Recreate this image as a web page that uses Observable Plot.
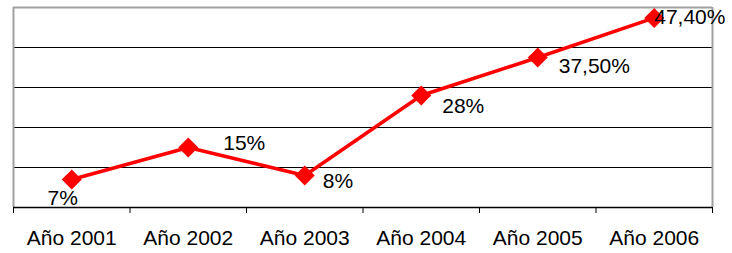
<!DOCTYPE html>
<html>
<head>
<meta charset="utf-8">
<script src="https://cdn.jsdelivr.net/npm/d3@7"></script>
<script src="https://cdn.jsdelivr.net/npm/@observablehq/plot@0.6"></script>
<style>
  html, body { margin: 0; padding: 0; background: #fff; }
  svg { overflow: visible; }
</style>
</head>
<body>
<div id="chart"></div>
<script>
const categories = ["Año 2001", "Año 2002", "Año 2003", "Año 2004", "Año 2005", "Año 2006"];
const values = [7, 15, 8, 28, 37.5, 47.4];
const valueLabels = ["7%", "15%", "8%", "28%", "37,50%", "47,40%"];
const gridTicks = [10, 20, 30, 40];

// label placement (pixel offsets from marker centre to text baseline start)
const labelOffsets = [
  {dx: -9, dy: 25, anchor: "middle"},
  {dx: 35, dy: 2, anchor: "start"},
  {dx: 18, dy: 12, anchor: "start"},
  {dx: 21, dy: 17, anchor: "start"},
  {dx: 21, dy: 15, anchor: "start"},
  {dx: 0, dy: 6, anchor: "start"}
];

const data = categories.map((c, i) => ({i, pos: i + 0.5, cat: c, v: values[i], label: valueLabels[i]}));
const font = "'Liberation Sans', Arial, sans-serif";

const labelMarks = data.map((d, i) => Plot.text([d], {
  x: "pos", y: "v", text: "label",
  dx: labelOffsets[i].dx, dy: labelOffsets[i].dy,
  textAnchor: labelOffsets[i].anchor, lineAnchor: "bottom",
  fill: "#000", fontSize: 21
}));

const chart = Plot.plot({
  width: 732,
  height: 253,
  marginLeft: 13,
  marginRight: 20,
  marginTop: 7,
  marginBottom: 46,
  style: {fontFamily: font, background: "#fff"},
  x: {domain: [0, categories.length], axis: null},
  y: {domain: [0, 50], axis: null},
  marks: [
    Plot.ruleY(gridTicks, {stroke: "#000", strokeWidth: 1}),
    Plot.ruleY([50], {stroke: "#a0a0a0", strokeWidth: 2}),
    Plot.ruleX([0, categories.length], {stroke: "#a0a0a0", strokeWidth: 2}),
    Plot.axisX(d3.range(0, categories.length + 1), {
      tickSize: 6, tickFormat: () => "", stroke: "#000", strokeWidth: 1, label: null
    }),
    Plot.axisX(data.map(d => d.pos), {
      tickSize: 0, tickPadding: 23, label: null,
      tickFormat: (t) => categories[Math.floor(t)],
      fontSize: 21, fill: "#000"
    }),
    Plot.ruleY([0], {stroke: "#000", strokeWidth: 1.5}),
    Plot.line(data, {x: "pos", y: "v", stroke: "#ff0000", strokeWidth: 3.5}),
    Plot.dot(data, {x: "pos", y: "v", symbol: "diamond2", r: 9, fill: "#ff0000", stroke: "none"}),
    ...labelMarks
  ]
});

document.getElementById("chart").appendChild(chart);
</script>
</body>
</html>
